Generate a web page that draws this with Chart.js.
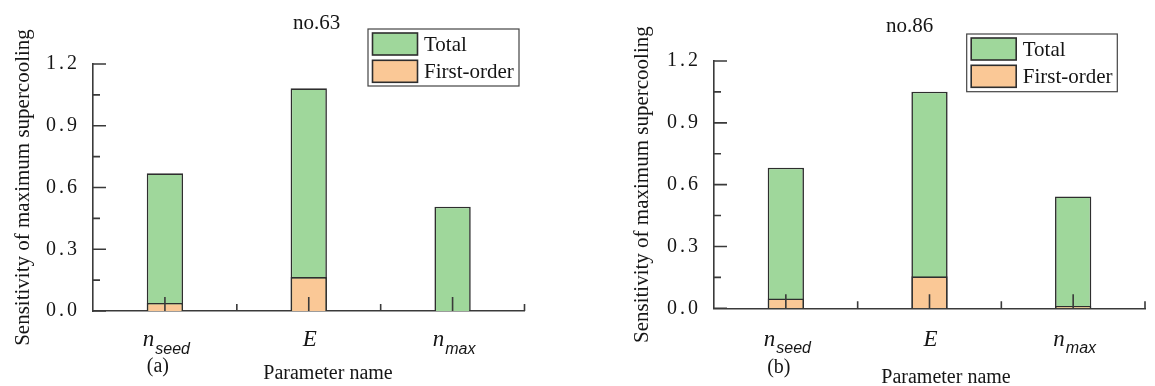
<!DOCTYPE html>
<html>
<head>
<meta charset="utf-8">
<script src="https://cdn.jsdelivr.net/npm/chart.js@4.4.0/dist/chart.umd.min.js"></script>
<style>
  html, body { margin: 0; padding: 0; background: #ffffff; }
  #wrap { position: relative; width: 1155px; height: 386px; overflow: hidden; background: #ffffff; }
  .panel { position: absolute; top: 0; height: 386px; }
  canvas { display: block; }
</style>
</head>
<body>
<div id="wrap">
  <div class="panel" style="left:0;width:578px"><canvas id="chartA" width="578" height="386"></canvas></div>
  <div class="panel" style="left:578px;width:577px"><canvas id="chartB" width="577" height="386"></canvas></div>
</div>
<script>
// Parameters (underscore marks the subscript part of each symbol)
const categories = ['n_seed', 'E', 'n_max'];
const seriesNames = ['Total', 'First-order'];

// Sobol sensitivity indices, case no.63
const totalNo63 = [0.669, 1.082, 0.507];
const firstNo63 = [0.039, 0.165, 0.0];

// Sobol sensitivity indices, case no.86
const totalNo86 = [0.682, 1.051, 0.543];
const firstNo86 = [0.048, 0.155, 0.011];

// Labelled y ticks
const yTickValues = [0, 0.3, 0.6, 0.9, 1.2];
const yTickLabels = ['0.0', '0.3', '0.6', '0.9', '1.2'];

const SERIF = 'Liberation Serif';
const SANS = 'Liberation Sans';
const GREEN = '#9fd79b';
const ORANGE = '#fac896';
const EDGE = '#2e2e2e';
const AXIS = '#3a3a3a';
const INK = '#151515';
const TICK_SPACING = 3; // px between digits of the y tick labels

Chart.defaults.font.family = SERIF;
Chart.defaults.color = INK;

// Inward tick marks, subscripted category labels, captions and the framed legend
const panelDecor = {
  id: 'panelDecor',
  afterLayout(chart) {
    // spread the digits of the y tick labels a little
    const ys = chart.scales.y;
    if (ys._spaced) return;
    const orig = ys.drawLabels;
    ys.drawLabels = function (area) {
      const ctx = this.ctx;
      const prev = ctx.letterSpacing;
      ctx.letterSpacing = TICK_SPACING + 'px';
      orig.call(this, area);
      ctx.letterSpacing = prev || '0px';
    };
    ys._spaced = true;
  },
  afterDatasetsDraw(chart, args, o) {
    const ctx = chart.ctx;
    const xs = chart.scales.x, ys = chart.scales.y;
    const area = chart.chartArea;
    ctx.save();
    ctx.strokeStyle = AXIS;
    ctx.lineWidth = 1.6;
    ctx.beginPath();
    // y: major ticks on labelled values, minor ticks halfway between
    yTickValues.forEach((v, i) => {
      const py = ys.getPixelForValue(v);
      ctx.moveTo(area.left, py); ctx.lineTo(area.left + 13, py);
      if (i < yTickValues.length - 1) {
        const pm = ys.getPixelForValue((v + yTickValues[i + 1]) / 2);
        ctx.moveTo(area.left, pm); ctx.lineTo(area.left + 7, pm);
      }
    });
    // x: long ticks at category centres, short ticks at category edges
    categories.forEach((c, i) => {
      const px = xs.getPixelForValue(i);
      ctx.moveTo(px, area.bottom); ctx.lineTo(px, area.bottom - 14);
      const pe = xs.getPixelForValue(i + 0.5);
      ctx.moveTo(pe, area.bottom); ctx.lineTo(pe, area.bottom - 7);
    });
    ctx.stroke();
    ctx.restore();
  },
  afterDraw(chart, args, o) {
    const ctx = chart.ctx;
    const xs = chart.scales.x;
    ctx.save();
    ctx.letterSpacing = '0px';
    ctx.fillStyle = INK;
    ctx.textBaseline = 'alphabetic';

    // category symbols with subscripts
    categories.forEach((c, i) => {
      const [base, sub] = c.split('_');
      const px = xs.getPixelForValue(i);
      ctx.font = 'italic 23px "' + SERIF + '"';
      const wb = ctx.measureText(base).width;
      ctx.font = 'italic 16px "' + SANS + '"';
      const ws = sub ? ctx.measureText(sub).width : 0;
      const x0 = px - (wb + ws) / 2 + 1;
      ctx.textAlign = 'left';
      ctx.font = 'italic 23px "' + SERIF + '"';
      ctx.fillText(base, x0, o.labelY);
      if (sub) {
        ctx.font = 'italic 16px "' + SANS + '"';
        ctx.fillText(sub, x0 + wb + 1, o.subY);
      }
    });

    // panel tag under the first category
    ctx.textAlign = 'center';
    ctx.font = '20px "' + SERIF + '"';
    ctx.fillText(o.tag, xs.getPixelForValue(0) - 7, o.tagY);

    // x-axis title
    ctx.fillText('Parameter name', o.xTitleX, o.xTitleY);

    // chart title
    ctx.font = '21px "' + SERIF + '"';
    ctx.fillText(o.title, o.titleX, o.titleY);

    // legend frame
    const L = o.legend;
    ctx.fillStyle = '#ffffff';
    ctx.fillRect(L.x, L.y, L.w, L.h);
    ctx.strokeStyle = '#444444';
    ctx.lineWidth = 1.2;
    ctx.strokeRect(L.x, L.y, L.w, L.h);
    chart.data.datasets.forEach((ds, i) => {
      const sy = L.y + 4 + i * 27.3;
      ctx.fillStyle = ds.backgroundColor;
      ctx.fillRect(L.x + 4.5, sy, 45, 22);
      ctx.strokeStyle = EDGE;
      ctx.lineWidth = 1.6;
      ctx.strokeRect(L.x + 4.5, sy, 45, 22);
      ctx.fillStyle = INK;
      ctx.textAlign = 'left';
      ctx.textBaseline = 'middle';
      ctx.font = '21px "' + SERIF + '"';
      ctx.fillText(ds.label, L.x + 56, sy + 12);
    });
    ctx.restore();
  }
};

function makeChart(id, total, first, geo, decor) {
  const barOpts = { borderColor: EDGE, borderWidth: 1.6, grouped: false, barPercentage: 0.2525, categoryPercentage: 1 };
  return new Chart(document.getElementById(id), {
    type: 'bar',
    data: {
      labels: categories,
      datasets: [
        Object.assign({ label: seriesNames[0], data: total, backgroundColor: GREEN, order: 1 }, barOpts),
        Object.assign({ label: seriesNames[1], data: first, backgroundColor: ORANGE, order: 0 }, barOpts)
      ]
    },
    options: {
      responsive: false,
      animation: false,
      devicePixelRatio: 1,
      layout: { padding: { top: geo.top, right: geo.right, left: 0, bottom: 0 } },
      plugins: {
        legend: { display: false },
        tooltip: { enabled: false },
        title: { display: false },
        panelDecor: decor
      },
      scales: {
        x: {
          ticks: { display: false },
          grid: { display: false, drawTicks: false },
          border: { display: true, color: AXIS, width: 1.6 },
          afterFit(s) { s.height = geo.xh; }
        },
        y: {
          min: 0,
          max: 1.2,
          afterBuildTicks(s) { s.ticks = yTickValues.map(v => ({ value: v })); },
          ticks: {
            padding: 16 - TICK_SPACING,
            color: INK,
            font: { family: SERIF, size: 20 },
            callback: (v, i) => yTickLabels[i]
          },
          grid: { display: false, drawTicks: false },
          border: { display: true, color: AXIS, width: 1.6 },
          title: {
            display: true,
            text: 'Sensitivity of maximum supercooling',
            color: INK,
            font: { family: SERIF, size: 21 },
            padding: geo.titlePad
          },
          afterFit(s) { s.width = geo.yw; }
        }
      }
    },
    plugins: [panelDecor]
  });
}

makeChart('chartA', totalNo63, firstNo63,
  { top: 64, right: 53.5, xh: 75, yw: 93, titlePad: 10.4 },
  { title: 'no.63', titleX: 316.7, titleY: 28.5, tag: '(a)', tagY: 371.5,
    labelY: 346, subY: 354, xTitleX: 328, xTitleY: 378.5,
    legend: { x: 368, y: 29, w: 151, h: 57 } });

makeChart('chartB', totalNo86, firstNo86,
  { top: 61, right: 10, xh: 77.7, yw: 136, titlePad: 51.9 },
  { title: 'no.86', titleX: 331.7, titleY: 31.5, tag: '(b)', tagY: 372.5,
    labelY: 346, subY: 353, xTitleX: 368, xTitleY: 382.5,
    legend: { x: 388.7, y: 34, w: 150.6, h: 57.7 } });
</script>
</body>
</html>
